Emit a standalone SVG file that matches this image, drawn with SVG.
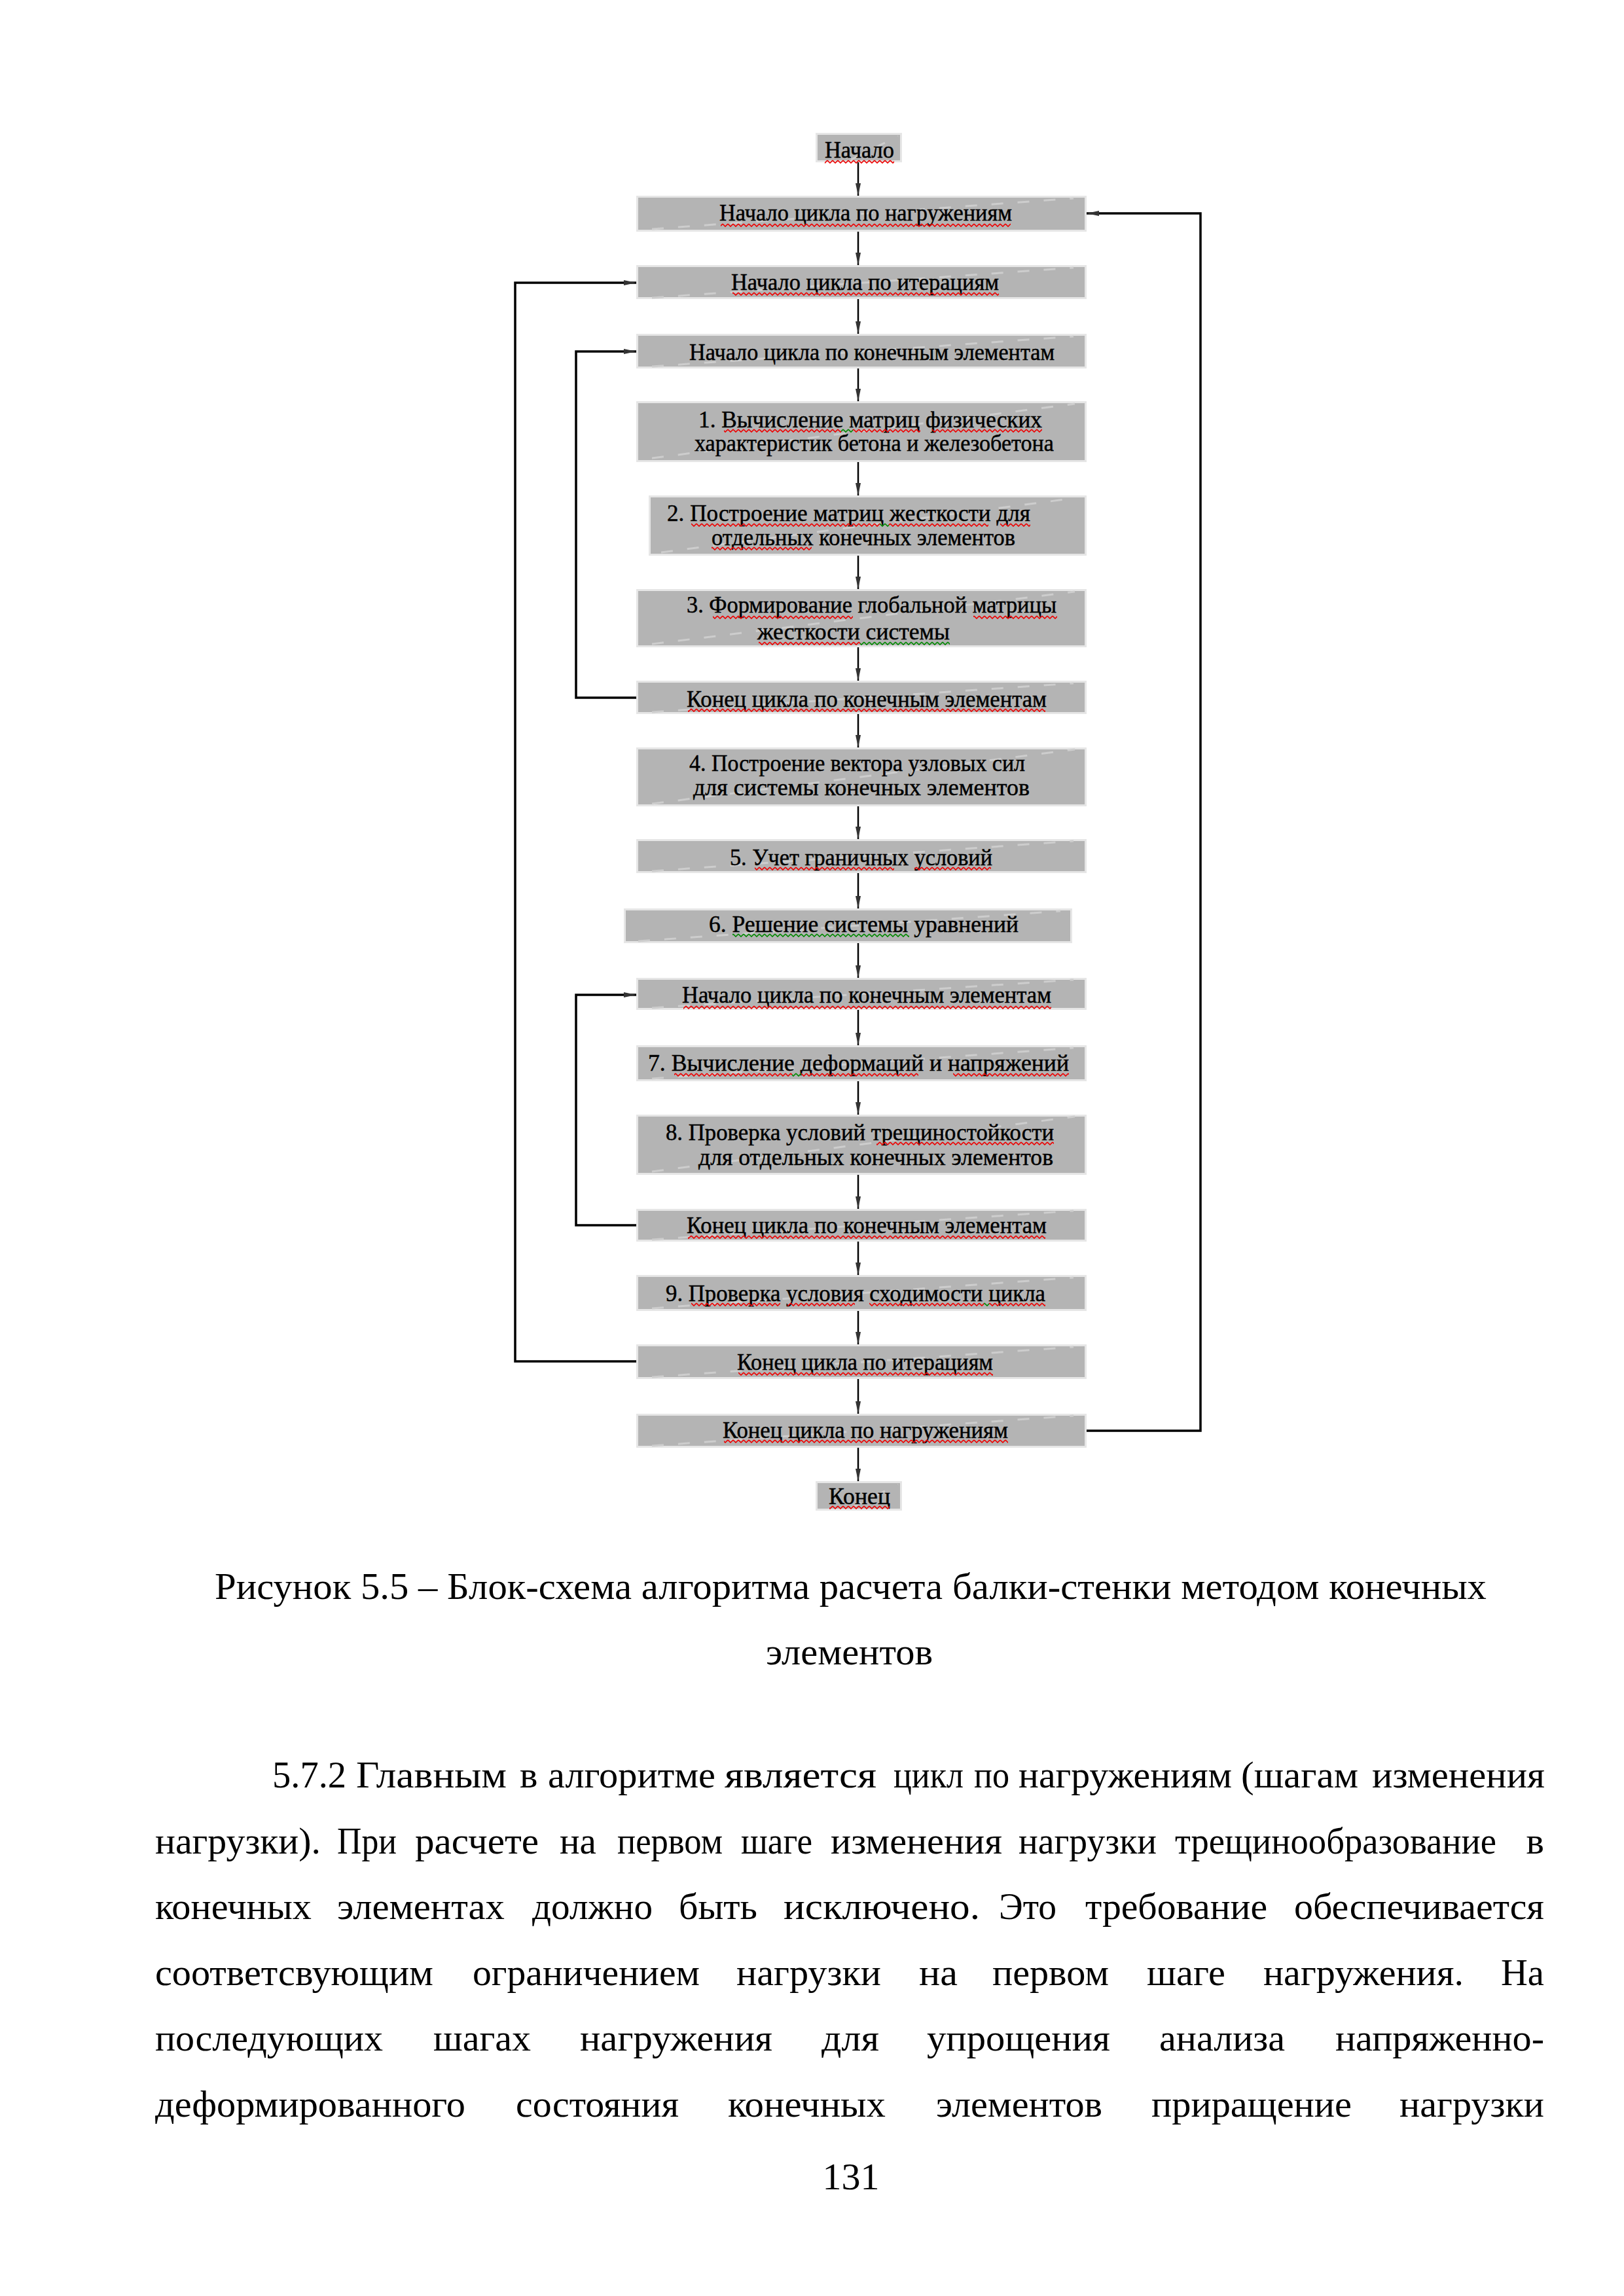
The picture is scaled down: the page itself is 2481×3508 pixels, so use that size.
<svg xmlns="http://www.w3.org/2000/svg" width="2481" height="3508" viewBox="0 0 2481 3508">
<style>
.bx{fill:#b4b4b4;stroke:#e6e6e6;stroke-width:3}
.dg{stroke:#cdcdcd;stroke-width:3;stroke-dasharray:18 22;fill:none}
.t{font-family:"Liberation Serif","Times New Roman",serif;font-size:36px;fill:#000;stroke:#000;stroke-width:0.5}
.c{font-family:"Liberation Serif","Times New Roman",serif;font-size:58px;fill:#000}
.v{stroke:#000;stroke-width:2.5;fill:none}
.lp{stroke:#000;stroke-width:3.5;fill:none}
</style>
<defs>
<marker id="ah" markerUnits="userSpaceOnUse" markerWidth="20" markerHeight="10" refX="19" refY="5" orient="auto">
<path d="M0,1 L19,5 L0,9 z" fill="#333"/>
</marker>
<pattern id="sqr" width="8" height="6" patternUnits="userSpaceOnUse"><path d="M0,1 L4,5 L8,1" stroke="#e00" stroke-width="1.6" fill="none"/></pattern>
<pattern id="sqg" width="8" height="6" patternUnits="userSpaceOnUse"><path d="M0,1 L4,5 L8,1" stroke="#080" stroke-width="1.6" fill="none"/></pattern>
</defs>

<g id="connectors">
<path class="v" d="M1311,248 V299" marker-end="url(#ah)"/>
<path class="v" d="M1311,354 V405" marker-end="url(#ah)"/>
<path class="v" d="M1311,457 V510" marker-end="url(#ah)"/>
<path class="v" d="M1311,563 V613" marker-end="url(#ah)"/>
<path class="v" d="M1311,706 V757" marker-end="url(#ah)"/>
<path class="v" d="M1311,849 V900" marker-end="url(#ah)"/>
<path class="v" d="M1311,989 V1040" marker-end="url(#ah)"/>
<path class="v" d="M1311,1091 V1142" marker-end="url(#ah)"/>
<path class="v" d="M1311,1232 V1282" marker-end="url(#ah)"/>
<path class="v" d="M1311,1334 V1388" marker-end="url(#ah)"/>
<path class="v" d="M1311,1441 V1494" marker-end="url(#ah)"/>
<path class="v" d="M1311,1543 V1597" marker-end="url(#ah)"/>
<path class="v" d="M1311,1652 V1703" marker-end="url(#ah)"/>
<path class="v" d="M1311,1795 V1847" marker-end="url(#ah)"/>
<path class="v" d="M1311,1897 V1948" marker-end="url(#ah)"/>
<path class="v" d="M1311,2003 V2054" marker-end="url(#ah)"/>
<path class="v" d="M1311,2107 V2160" marker-end="url(#ah)"/>
<path class="v" d="M1311,2212 V2263" marker-end="url(#ah)"/>
<path class="lp" d="M1659,2186 H1834 V326 H1660" marker-end="url(#ah)"/>
<path class="lp" d="M972,2080 H787 V432 H972" marker-end="url(#ah)"/>
<path class="lp" d="M972,1066 H880 V537 H972" marker-end="url(#ah)"/>
<path class="lp" d="M972,1872 H880 V1520 H972" marker-end="url(#ah)"/>
</g>

<g id="n-start">
<rect class="bx" x="1247.5" y="204.5" width="129" height="42"/>
<path class="dg" d="M1300,244 L1372,208"/>
<text class="t" x="1260" y="241" textLength="106" lengthAdjust="spacingAndGlyphs">Начало</text>
<rect x="1260" y="0" width="106" height="6" fill="url(#sqr)" transform="translate(0,244)"/>
</g>

<g id="n-load-begin">
<rect class="bx" x="973.5" y="300.5" width="685" height="52"/>
<path class="dg" d="M996,350 L1640,303"/>
<text class="t" x="1099" y="337" textLength="447" lengthAdjust="spacingAndGlyphs">Начало цикла по нагружениям</text>
<rect x="1101" y="0" width="443" height="6" fill="url(#sqr)" transform="translate(0,341)"/>
</g>

<g id="n-iter-begin">
<rect class="bx" x="973.5" y="406.5" width="685" height="49"/>
<path class="dg" d="M996,455 L1640,409"/>
<text class="t" x="1117" y="443" textLength="409" lengthAdjust="spacingAndGlyphs">Начало цикла по итерациям</text>
<rect x="1119" y="0" width="407" height="6" fill="url(#sqr)" transform="translate(0,446)"/>
</g>

<g id="n-fe-begin-1">
<rect class="bx" x="973.5" y="511.5" width="685" height="50"/>
<path class="dg" d="M996,560 L1640,514"/>
<text class="t" x="1053" y="550" textLength="558" lengthAdjust="spacingAndGlyphs">Начало цикла по конечным элементам</text>
</g>

<g id="n-step1">
<rect class="bx" x="973.5" y="614.5" width="685" height="90"/>
<path class="dg" d="M996,700 L1642,617"/>
<text class="t" x="1067" y="653" textLength="525" lengthAdjust="spacingAndGlyphs">1. Вычисление  матриц  физических</text>
<text class="t" x="1061" y="689" textLength="549" lengthAdjust="spacingAndGlyphs">характеристик бетона и железобетона</text>
<rect x="1106" y="0" width="179" height="6" fill="url(#sqr)" transform="translate(0,655)"/>
<rect x="1285" y="0" width="18" height="6" fill="url(#sqg)" transform="translate(0,655)"/>
<rect x="1303" y="0" width="103" height="6" fill="url(#sqr)" transform="translate(0,655)"/>
<rect x="1424" y="0" width="168" height="6" fill="url(#sqr)" transform="translate(0,655)"/>
</g>

<g id="n-step2">
<rect class="bx" x="992.5" y="758.5" width="666" height="89"/>
<path class="dg" d="M1010,844 L1642,761"/>
<text class="t" x="1019" y="796" textLength="555" lengthAdjust="spacingAndGlyphs">2. Построение матриц  жесткости  для</text>
<text class="t" x="1087" y="833" textLength="464" lengthAdjust="spacingAndGlyphs">отдельных конечных элементов</text>
<rect x="1056" y="0" width="288" height="6" fill="url(#sqr)" transform="translate(0,799)"/>
<rect x="1344" y="0" width="14" height="6" fill="url(#sqg)" transform="translate(0,799)"/>
<rect x="1358" y="0" width="152" height="6" fill="url(#sqr)" transform="translate(0,799)"/>
<rect x="1528" y="0" width="46" height="6" fill="url(#sqr)" transform="translate(0,799)"/>
<rect x="1087" y="0" width="153" height="6" fill="url(#sqr)" transform="translate(0,835)"/>
</g>

<g id="n-step3">
<rect class="bx" x="973.5" y="901.5" width="685" height="86"/>
<path class="dg" d="M996,984 L1642,904"/>
<text class="t" x="1049" y="936" textLength="565" lengthAdjust="spacingAndGlyphs">3. Формирование глобальной матрицы</text>
<text class="t" x="1157" y="977" textLength="294" lengthAdjust="spacingAndGlyphs">жесткости  системы</text>
<rect x="1089" y="0" width="214" height="6" fill="url(#sqr)" transform="translate(0,940)"/>
<rect x="1487" y="0" width="128" height="6" fill="url(#sqr)" transform="translate(0,940)"/>
<rect x="1159" y="0" width="155" height="6" fill="url(#sqr)" transform="translate(0,980)"/>
<rect x="1314" y="0" width="137" height="6" fill="url(#sqg)" transform="translate(0,980)"/>
</g>

<g id="n-fe-end-1">
<rect class="bx" x="973.5" y="1041.5" width="685" height="48"/>
<path class="dg" d="M996,1088 L1640,1044"/>
<text class="t" x="1049" y="1080" textLength="550" lengthAdjust="spacingAndGlyphs">Конец цикла по конечным элементам</text>
<rect x="1051" y="0" width="546" height="6" fill="url(#sqr)" transform="translate(0,1082)"/>
</g>

<g id="n-step4">
<rect class="bx" x="973.5" y="1143.5" width="685" height="87"/>
<path class="dg" d="M996,1228 L1642,1145"/>
<text class="t" x="1053" y="1178" textLength="513" lengthAdjust="spacingAndGlyphs">4. Построение вектора узловых сил</text>
<text class="t" x="1059" y="1215" textLength="514" lengthAdjust="spacingAndGlyphs">для  системы  конечных  элементов</text>
</g>

<g id="n-step5">
<rect class="bx" x="973.5" y="1283.5" width="685" height="49"/>
<path class="dg" d="M996,1331 L1640,1285"/>
<text class="t" x="1115" y="1322" textLength="401" lengthAdjust="spacingAndGlyphs">5. Учет граничных  условий</text>
<rect x="1153" y="0" width="213" height="6" fill="url(#sqr)" transform="translate(0,1324)"/>
<rect x="1397" y="0" width="117" height="6" fill="url(#sqr)" transform="translate(0,1324)"/>
</g>

<g id="n-step6">
<rect class="bx" x="954.5" y="1389.5" width="682" height="50"/>
<path class="dg" d="M975,1438 L1620,1392"/>
<text class="t" x="1083" y="1424" textLength="473" lengthAdjust="spacingAndGlyphs">6. Решение  системы  уравнений</text>
<rect x="1119" y="0" width="270" height="6" fill="url(#sqg)" transform="translate(0,1426)"/>
</g>

<g id="n-fe-begin-2">
<rect class="bx" x="973.5" y="1495.5" width="685" height="46"/>
<path class="dg" d="M996,1540 L1640,1497"/>
<text class="t" x="1042" y="1532" textLength="564" lengthAdjust="spacingAndGlyphs">Начало цикла по конечным элементам</text>
<rect x="1044" y="0" width="562" height="6" fill="url(#sqr)" transform="translate(0,1536)"/>
</g>

<g id="n-step7">
<rect class="bx" x="973.5" y="1598.5" width="685" height="52"/>
<path class="dg" d="M996,1648 L1640,1601"/>
<text class="t" x="990" y="1636" textLength="643" lengthAdjust="spacingAndGlyphs">7. Вычисление  деформаций  и  напряжений</text>
<rect x="1030" y="0" width="180" height="6" fill="url(#sqr)" transform="translate(0,1639)"/>
<rect x="1210" y="0" width="14" height="6" fill="url(#sqg)" transform="translate(0,1639)"/>
<rect x="1224" y="0" width="179" height="6" fill="url(#sqr)" transform="translate(0,1639)"/>
<rect x="1456" y="0" width="177" height="6" fill="url(#sqr)" transform="translate(0,1639)"/>
</g>

<g id="n-step8">
<rect class="bx" x="973.5" y="1704.5" width="685" height="89"/>
<path class="dg" d="M996,1790 L1642,1706"/>
<text class="t" x="1017" y="1742" textLength="593" lengthAdjust="spacingAndGlyphs">8.  Проверка условий трещиностойкости</text>
<text class="t" x="1067" y="1780" textLength="542" lengthAdjust="spacingAndGlyphs">для отдельных   конечных  элементов</text>
<rect x="1339" y="0" width="271" height="6" fill="url(#sqr)" transform="translate(0,1744)"/>
</g>

<g id="n-fe-end-2">
<rect class="bx" x="973.5" y="1848.5" width="685" height="47"/>
<path class="dg" d="M996,1894 L1640,1850"/>
<text class="t" x="1049" y="1884" textLength="550" lengthAdjust="spacingAndGlyphs">Конец цикла по конечным элементам</text>
<rect x="1051" y="0" width="546" height="6" fill="url(#sqr)" transform="translate(0,1887)"/>
</g>

<g id="n-step9">
<rect class="bx" x="973.5" y="1949.5" width="685" height="52"/>
<path class="dg" d="M996,1999 L1640,1952"/>
<text class="t" x="1017" y="1988" textLength="580" lengthAdjust="spacingAndGlyphs">9. Проверка условия сходимости  цикла</text>
<rect x="1056" y="0" width="136" height="6" fill="url(#sqr)" transform="translate(0,1990)"/>
<rect x="1203" y="0" width="103" height="6" fill="url(#sqr)" transform="translate(0,1990)"/>
<rect x="1328" y="0" width="175" height="6" fill="url(#sqr)" transform="translate(0,1990)"/>
<rect x="1503" y="0" width="8" height="6" fill="url(#sqg)" transform="translate(0,1990)"/>
<rect x="1511" y="0" width="86" height="6" fill="url(#sqr)" transform="translate(0,1990)"/>
</g>

<g id="n-iter-end">
<rect class="bx" x="973.5" y="2055.5" width="685" height="50"/>
<path class="dg" d="M996,2104 L1640,2058"/>
<text class="t" x="1126" y="2093" textLength="391" lengthAdjust="spacingAndGlyphs">Конец цикла по  итерациям</text>
<rect x="1128" y="0" width="389" height="6" fill="url(#sqr)" transform="translate(0,2096)"/>
</g>

<g id="n-load-end">
<rect class="bx" x="973.5" y="2161.5" width="685" height="49"/>
<path class="dg" d="M996,2209 L1640,2163"/>
<text class="t" x="1104" y="2197" textLength="436" lengthAdjust="spacingAndGlyphs">Конец цикла по  нагружениям</text>
<rect x="1106" y="0" width="434" height="6" fill="url(#sqr)" transform="translate(0,2199)"/>
</g>

<g id="n-end">
<rect class="bx" x="1247.5" y="2264.5" width="129" height="42"/>
<path class="dg" d="M1300,2304 L1372,2268"/>
<text class="t" x="1266" y="2298" textLength="94" lengthAdjust="spacingAndGlyphs">Конец</text>
<rect x="1267" y="0" width="92" height="6" fill="url(#sqr)" transform="translate(0,2300)"/>
</g>

<g id="caption">
<text class="c" x="328" y="2443" textLength="1943" lengthAdjust="spacingAndGlyphs">Рисунок 5.5 – Блок-схема алгоритма расчета балки-стенки методом конечных</text>
<text class="c" x="1170" y="2543" textLength="255" lengthAdjust="spacingAndGlyphs">элементов</text>
</g>

<g id="body">
<text class="c" x="416" y="2731" textLength="113" lengthAdjust="spacingAndGlyphs">5.7.2</text>
<text class="c" x="544" y="2731" textLength="230" lengthAdjust="spacingAndGlyphs">Главным</text>
<text class="c" x="794" y="2731">в</text>
<text class="c" x="837" y="2731" textLength="256" lengthAdjust="spacingAndGlyphs">алгоритме</text>
<text class="c" x="1107" y="2731" textLength="232" lengthAdjust="spacingAndGlyphs">является</text>
<text class="c" x="1365" y="2731" textLength="107" lengthAdjust="spacingAndGlyphs">цикл</text>
<text class="c" x="1488" y="2731" textLength="54" lengthAdjust="spacingAndGlyphs">по</text>
<text class="c" x="1556" y="2731" textLength="326" lengthAdjust="spacingAndGlyphs">нагружениям</text>
<text class="c" x="1896" y="2731" textLength="179" lengthAdjust="spacingAndGlyphs">(шагам</text>
<text class="c" x="2096" y="2731" textLength="264" lengthAdjust="spacingAndGlyphs">изменения</text>

<text class="c" x="237" y="2832" textLength="253" lengthAdjust="spacingAndGlyphs">нагрузки).</text>
<text class="c" x="515" y="2832" textLength="91" lengthAdjust="spacingAndGlyphs">При</text>
<text class="c" x="634" y="2832" textLength="189" lengthAdjust="spacingAndGlyphs">расчете</text>
<text class="c" x="855" y="2832" textLength="56" lengthAdjust="spacingAndGlyphs">на</text>
<text class="c" x="943" y="2832" textLength="161" lengthAdjust="spacingAndGlyphs">первом</text>
<text class="c" x="1132" y="2832" textLength="109" lengthAdjust="spacingAndGlyphs">шаге</text>
<text class="c" x="1269" y="2832" textLength="262" lengthAdjust="spacingAndGlyphs">изменения</text>
<text class="c" x="1556" y="2832" textLength="211" lengthAdjust="spacingAndGlyphs">нагрузки</text>
<text class="c" x="1795" y="2832" textLength="491" lengthAdjust="spacingAndGlyphs">трещинообразование</text>
<text class="c" x="2359" y="2832" text-anchor="end">в</text>

<text class="c" x="237" y="2932" textLength="239" lengthAdjust="spacingAndGlyphs">конечных</text>
<text class="c" x="515" y="2932" textLength="256" lengthAdjust="spacingAndGlyphs">элементах</text>
<text class="c" x="813" y="2932" textLength="184" lengthAdjust="spacingAndGlyphs">должно</text>
<text class="c" x="1037" y="2932" textLength="120" lengthAdjust="spacingAndGlyphs">быть</text>
<text class="c" x="1197" y="2932" textLength="300" lengthAdjust="spacingAndGlyphs">исключено.</text>
<text class="c" x="1526" y="2932" textLength="88" lengthAdjust="spacingAndGlyphs">Это</text>
<text class="c" x="1658" y="2932" textLength="278" lengthAdjust="spacingAndGlyphs">требование</text>
<text class="c" x="1977" y="2932" textLength="382" lengthAdjust="spacingAndGlyphs">обеспечивается</text>

<text class="c" x="237" y="3033" textLength="425" lengthAdjust="spacingAndGlyphs">соответсвующим</text>
<text class="c" x="722" y="3033" textLength="347" lengthAdjust="spacingAndGlyphs">ограничением</text>
<text class="c" x="1125" y="3033" textLength="221" lengthAdjust="spacingAndGlyphs">нагрузки</text>
<text class="c" x="1404" y="3033" textLength="59" lengthAdjust="spacingAndGlyphs">на</text>
<text class="c" x="1516" y="3033" textLength="178" lengthAdjust="spacingAndGlyphs">первом</text>
<text class="c" x="1752" y="3033" textLength="120" lengthAdjust="spacingAndGlyphs">шаге</text>
<text class="c" x="1930" y="3033" textLength="306" lengthAdjust="spacingAndGlyphs">нагружения.</text>
<text class="c" x="2293" y="3033" textLength="66" lengthAdjust="spacingAndGlyphs">На</text>

<text class="c" x="237" y="3133" textLength="348" lengthAdjust="spacingAndGlyphs">последующих</text>
<text class="c" x="662" y="3133" textLength="149" lengthAdjust="spacingAndGlyphs">шагах</text>
<text class="c" x="886" y="3133" textLength="294" lengthAdjust="spacingAndGlyphs">нагружения</text>
<text class="c" x="1255" y="3133" textLength="88" lengthAdjust="spacingAndGlyphs">для</text>
<text class="c" x="1416" y="3133" textLength="280" lengthAdjust="spacingAndGlyphs">упрощения</text>
<text class="c" x="1771" y="3133" textLength="192" lengthAdjust="spacingAndGlyphs">анализа</text>
<text class="c" x="2040" y="3133" textLength="319" lengthAdjust="spacingAndGlyphs">напряженно-</text>

<text class="c" x="237" y="3234" textLength="474" lengthAdjust="spacingAndGlyphs">деформированного</text>
<text class="c" x="788" y="3234" textLength="249" lengthAdjust="spacingAndGlyphs">состояния</text>
<text class="c" x="1112" y="3234" textLength="241" lengthAdjust="spacingAndGlyphs">конечных</text>
<text class="c" x="1430" y="3234" textLength="254" lengthAdjust="spacingAndGlyphs">элементов</text>
<text class="c" x="1759" y="3234" textLength="306" lengthAdjust="spacingAndGlyphs">приращение</text>
<text class="c" x="2138" y="3234" textLength="221" lengthAdjust="spacingAndGlyphs">нагрузки</text>

<text class="c" x="1300" y="3345" text-anchor="middle">131</text>
</g>
</svg>
